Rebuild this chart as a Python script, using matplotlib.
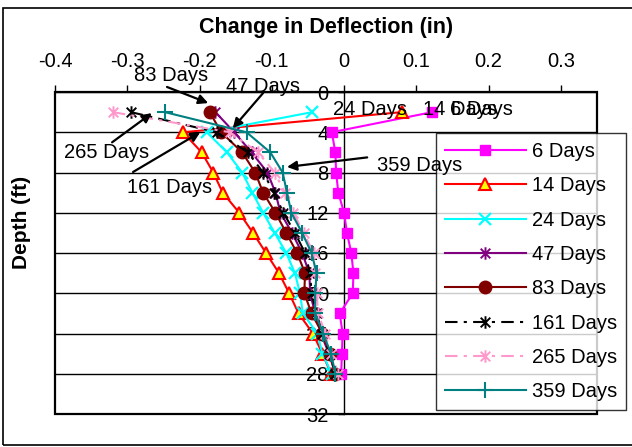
import matplotlib
matplotlib.use("Agg")
import matplotlib.pyplot as plt
from matplotlib.path import Path
from matplotlib.patches import Rectangle

plt.rcParams['font.family'] = ['Liberation Sans', 'DejaVu Sans']

depth = [2, 4, 6, 8, 10, 12, 14, 16, 18, 20, 22, 24, 26, 28]
d6 = [0.122, -0.017, -0.012, -0.011, -0.008, 0.0, 0.004, 0.010, 0.013, 0.012, -0.006, -0.002, -0.003, -0.004]
d14 = [0.080, -0.223, -0.197, -0.181, -0.168, -0.145, -0.126, -0.108, -0.090, -0.076, -0.063, -0.043, -0.030, -0.018]
d24 = [-0.044, -0.190, -0.162, -0.141, -0.127, -0.112, -0.096, -0.080, -0.068, -0.061, -0.057, -0.037, -0.030, -0.017]
d47 = [-0.178, -0.152, -0.128, -0.106, -0.095, -0.088, -0.072, -0.058, -0.048, -0.047, -0.040, -0.032, -0.021, -0.012]
d83 = [-0.186, -0.170, -0.141, -0.123, -0.112, -0.095, -0.080, -0.065, -0.054, -0.055, -0.045, -0.030, -0.020, -0.012]
d161 = [-0.295, -0.176, -0.133, -0.112, -0.097, -0.084, -0.068, -0.054, -0.047, -0.045, -0.038, -0.030, -0.020, -0.012]
d265 = [-0.320, -0.158, -0.119, -0.096, -0.082, -0.070, -0.056, -0.042, -0.040, -0.038, -0.036, -0.026, -0.018, -0.008]
d359 = [-0.248, -0.135, -0.102, -0.085, -0.079, -0.073, -0.058, -0.045, -0.038, -0.040, -0.040, -0.029, -0.018, -0.012]
labels = ['6 Days', '14 Days', '24 Days', '47 Days', '83 Days', '161 Days', '265 Days', '359 Days']
xticks = [-0.4, -0.3, -0.2, -0.1, 0, 0.1, 0.2, 0.3]
yticks = [0, 4, 8, 12, 16, 20, 24, 28, 32]

W, H = 632, 447
fig = plt.figure(figsize=(W / 100, H / 100), dpi=100)
ax = fig.add_axes([55 / W, 1 - 414 / H, (597 - 55) / W, (414 - 92) / H])
ax.spines['left'].set_position(('data', 0))

star = Path([(-1, -1), (1, 1), (-1, 1), (1, -1), (0, -1.3), (0, 1.3)],
            [Path.MOVETO, Path.LINETO, Path.MOVETO, Path.LINETO, Path.MOVETO, Path.LINETO])

FS = 14.5
lw = 1.5
ax.plot(d6, depth, color='#FF00FF', lw=lw, marker='s', ms=7.5, mfc='#FF00FF', mec='#FF00FF', label=labels[0], zorder=3)
ax.plot(d14, depth, color='#FF0000', lw=lw, marker='^', ms=9, mfc='#FFFF00', mec='#FF0000', mew=1.5, label=labels[1], zorder=3)
ax.plot(d24, depth, color='#00FFFF', lw=lw, marker='x', ms=9, mec='#00FFFF', mew=1.6, label=labels[2], zorder=3)
ax.plot(d47, depth, color='#800080', lw=lw, marker=star, ms=9, mec='#800080', mew=1.4, label=labels[3], zorder=3)
ax.plot(d83, depth, color='#800000', lw=lw, marker='o', ms=9, mfc='#800000', mec='#800000', label=labels[4], zorder=3)
ax.plot(d161, depth, color='#000000', lw=lw, dashes=(6, 3, 1.5, 3), marker=star, ms=9, mec='#000000', mew=1.4, label=labels[5], zorder=3)
ax.plot(d265, depth, color='#FF99CC', lw=lw, dashes=(6, 3, 1.5, 3), marker=star, ms=9, mec='#FF99CC', mew=1.4, label=labels[6], zorder=3)
ax.plot(d359, depth, color='#008080', lw=lw, marker='+', ms=11, mec='#008080', mew=1.5, label=labels[7], zorder=3)

ax.set_xlim(-0.4, 0.35)
ax.set_ylim(32, 0)
ax.set_xticks(xticks)
ax.set_xticklabels([f'{t:g}' for t in xticks])
ax.set_yticks(yticks)
ax.set_yticklabels([str(t) for t in yticks])
ax.xaxis.tick_top()
ax.xaxis.set_label_position('top')
ax.tick_params(axis='x', direction='out', length=5, width=1, pad=10, labelsize=FS)
ax.tick_params(axis='y', direction='out', length=4, width=1, pad=7, labelsize=FS)
ax.spines['left'].set_linewidth(1)
for s in ['top', 'right', 'bottom']:
    ax.spines[s].set_visible(False)
ax.add_patch(Rectangle((0, 0), 1, 1, transform=ax.transAxes, fill=False, ec='black', lw=1.6, zorder=5, clip_on=False))
ax.yaxis.grid(True, color='black', lw=1)
ax.set_axisbelow(True)

fig.text(326 / W, 1 - 28 / H, 'Change in Deflection (in)', fontsize=15.5, fontweight='bold', ha='center', va='center')
fig.text(22 / W, 1 - 222 / H, 'Depth (ft)', rotation=90, fontsize=15, fontweight='bold', ha='center', va='center')

# point labels
ax.text(-0.015, 1.7, '24 Days', fontsize=FS, ha='left', va='center', zorder=6)
ax.text(0.109, 1.7, '14 Days', fontsize=FS, ha='left', va='center', zorder=6)
ax.text(0.147, 1.7, '6 Days', fontsize=FS, ha='left', va='center', zorder=6)

arrowprops = dict(arrowstyle='-|>', color='black', lw=1.6, mutation_scale=14, shrinkA=0, shrinkB=0)
ann = [
    ('83 Days', (-0.240, -1.6), (-0.245, -0.5), (-0.188, 1.1)),
    ('47 Days', (-0.112, -0.5), (-0.112, 0.1), (-0.154, 3.6)),
    ('265 Days', (-0.328, 6.0), (-0.321, 5.0), (-0.266, 2.1)),
    ('161 Days', (-0.241, 9.5), (-0.292, 7.95), (-0.199, 4.0)),
    ('359 Days', (0.104, 7.35), (0.032, 6.5), (-0.079, 7.45)),
]
for txt, tpos, start, end in ann:
    ax.text(tpos[0], tpos[1], txt, fontsize=FS, ha='center', va='center', zorder=7, clip_on=False)
    ax.annotate('', xy=end, xytext=start, arrowprops=arrowprops, annotation_clip=False, zorder=7)

leg = ax.legend(loc='upper left', bbox_to_anchor=(436 / W, 1 - 133 / H), bbox_transform=fig.transFigure,
                fontsize=FS, frameon=True, fancybox=False, edgecolor='black', borderaxespad=0,
                borderpad=0.45, handlelength=4.0, handletextpad=0.3, labelspacing=0.76, numpoints=1)
leg.get_frame().set_linewidth(1)
leg.set_zorder(6)

fig.patches.append(Rectangle((3 / W, 1 - 445 / H), 1.0, (445 - 8) / H, transform=fig.transFigure,
                             fill=False, ec='black', lw=1.2))

fig.savefig('out.png', dpi=100)
